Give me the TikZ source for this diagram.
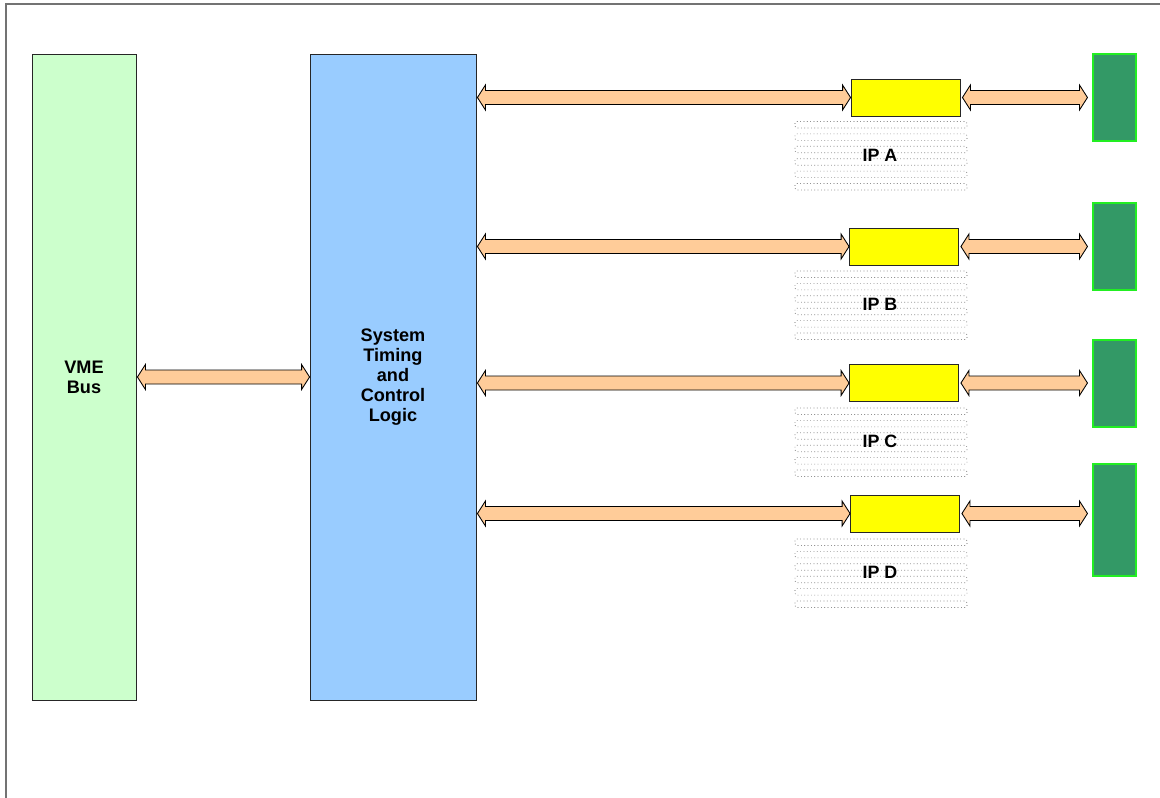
\documentclass[tikz,border=0pt]{standalone}
\usepackage{fontspec}
\setmainfont{Liberation Sans}
\usetikzlibrary{calc}
\definecolor{peach}{HTML}{FFCC99}
\definecolor{vmegreen}{HTML}{CCFFCC}
\definecolor{sysblue}{HTML}{99CCFF}
\definecolor{ipyellow}{HTML}{FFFF00}
\definecolor{iogreen}{HTML}{339966}
\definecolor{ioborder}{HTML}{22EE22}
\tikzset{
  box/.style={draw=black!85, line width=0.65pt, inner sep=0pt, align=center,
    font=\bfseries\fontsize{13.6}{15}\selectfont},
  ipbox/.style={draw=black!85, fill=ipyellow, line width=0.65pt, inner sep=0pt,
    minimum width=81.75pt, minimum height=27.75pt},
  iobox/.style={draw=ioborder, fill=iogreen, line width=0.8pt, inner sep=0pt,
    minimum width=32.25pt},
  stripe/.style={draw=black!65, dotted, line width=0.5pt, rounded corners=1.2pt},
  iplabel/.style={inner sep=0pt, font=\bfseries\fontsize{13.4}{15}\selectfont},
  dbl/.style={draw=black, fill=peach, line width=0.65pt, line join=miter,
    to path={(\tikztostart) -- ($(\tikztostart)+(8,-12.5)$) -- ($(\tikztostart)+(8,-7)$)
      -- ($(\tikztotarget)+(-8,-7)$) -- ($(\tikztotarget)+(-8,-12.5)$) -- (\tikztotarget)
      -- ($(\tikztotarget)+(-8,12.5)$) -- ($(\tikztotarget)+(-8,7)$)
      -- ($(\tikztostart)+(8,7)$) -- ($(\tikztostart)+(8,12.5)$) -- cycle}},
}
\begin{document}
\begin{tikzpicture}[x=0.75pt, y=-0.75pt]
\useasboundingbox (0,0) rectangle (1160,797);
% outer frame
\draw[black!55, line width=1.2pt] (6,800) -- (6,4) -- (1165,4);

% main blocks
\node[box, fill=vmegreen, minimum width=78pt, minimum height=484.5pt] (vme) at (84,377) {VME\\Bus};
\node[box, fill=sysblue, minimum width=124.5pt, minimum height=484.5pt] (sys) at (393,377) {System\\Timing\\and\\Control\\Logic};

% IP boxes
\node[ipbox] (ipa) at (905.5,97.5) {};
\node[ipbox] (ipb) at (904,246.5) {};
\node[ipbox] (ipc) at (904,383) {};
\node[ipbox] (ipd) at (905,513.5) {};

% IO boxes
\node[iobox, minimum height=65.25pt] (ioa) at (1114.5,97.5) {};
\node[iobox, minimum height=65.25pt] (iob) at (1114.5,246.5) {};
\node[iobox, minimum height=65.25pt] (ioc) at (1114.5,383.5) {};
\node[iobox, minimum height=84pt] (iod) at (1114.5,520) {};

% dotted stripes
\foreach \t in {121.5,271,408,539}{
  \foreach \i in {0,...,5}{
    \draw[stripe] (795,{\t+\i*12.4}) rectangle (967,{\t+\i*12.4+6.5});
  }
}
\node[iplabel] (la) at (880,155) {IP A};
\node[iplabel] (lb) at (880,304) {IP B};
\node[iplabel] (lc) at (880,441) {IP C};
\node[iplabel] (ld) at (880,572) {IP D};

% connectors
\coordinate (v1) at ($(vme.east)+(1,0)$);
\draw[dbl] (v1) to (sys.west);
\foreach \n in {a,b,c,d}{
  \coordinate (s\n) at ($(sys.east |- ip\n.west)+(1,0)$);
  \draw[dbl] (s\n) to (ip\n.west);
  \coordinate (r\n) at ($(ip\n.east)+(2,0)$);
  \coordinate (t\n) at ($(io\n.west |- ip\n.east)+(-5,0)$);
  \draw[dbl] (r\n) to (t\n);
}
\end{tikzpicture}
\end{document}
